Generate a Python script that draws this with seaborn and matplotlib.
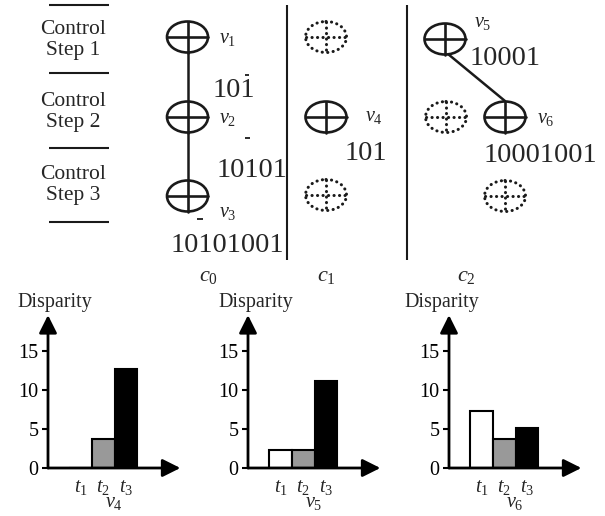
import matplotlib
matplotlib.use('Agg')
import matplotlib.pyplot as plt
import seaborn as sns
import pandas as pd
from matplotlib.patches import Ellipse

# ---------------- data ----------------
time_steps = ['$t_1$', '$t_2$', '$t_3$']
disparity_v4 = [0.0, 3.7, 12.7]
disparity_v5 = [2.3, 2.3, 11.2]
disparity_v6 = [7.3, 3.7, 5.1]
chart_nodes = ['$v_4$', '$v_5$', '$v_6$']
y_ticks = [0, 5, 10, 15]
y_label = 'Disparity'
step_labels = ['Control\nStep 1', 'Control\nStep 2', 'Control\nStep 3']
cluster_labels = ['$c_0$', '$c_1$', '$c_2$']
node_labels = ['$v_1$', '$v_2$', '$v_3$', '$v_4$', '$v_5$', '$v_6$']
node_codes = ['101', '10101', '10101001', '101', '10001', '10001001']
bar_colors = ['#ffffff', '#999999', '#000000']

# ---------------- style ----------------
sns.set_theme(style='white')
plt.rcParams['font.family'] = ['Liberation Serif', 'DejaVu Serif']
plt.rcParams['mathtext.fontset'] = 'custom'
plt.rcParams['mathtext.rm'] = 'Liberation Serif'
plt.rcParams['mathtext.it'] = 'Liberation Serif:italic'
plt.rcParams['mathtext.bf'] = 'Liberation Serif:bold'

W, H = 605, 516
fig = plt.figure(figsize=(W / 100, H / 100), dpi=100)
fig.patch.set_facecolor('white')

# overlay in pixel coordinates for the diagram
ov = fig.add_axes([0, 0, 1, 1])
ov.set_xlim(0, W)
ov.set_ylim(H, 0)
ov.axis('off')

# control-step separators and labels
for y in [5, 73, 148, 222]:
    ov.plot([49, 109], [y, y], color='k', lw=1.5, solid_capstyle='butt')
for lab, y in zip(step_labels, [40, 112, 185]):
    ov.text(73, y, lab, ha='center', va='center', fontsize=15.5, linespacing=1.2)

# column separators
for x in [287, 407]:
    ov.plot([x, x], [5, 260], color='k', lw=1.5, solid_capstyle='butt')

# edges between nodes
ov.plot([187.5, 187.5], [37, 196], color='k', lw=1.8, zorder=1)
ov.plot([448, 505], [54, 101], color='k', lw=1.8, zorder=1)

EW, EH = 41, 31


def node(x, y, dotted=False):
    if dotted:
        kw = dict(lw=2.2, linestyle=(0, (0.05, 1.75)), capstyle='round')
        lkw = dict(lw=2.2, linestyle=(0, (0.05, 1.75)), dash_capstyle='round')
    else:
        kw = dict(lw=1.9)
        lkw = dict(lw=1.9)
    e = Ellipse((x, y), EW, EH, facecolor='white', edgecolor='k', zorder=2, **kw)
    ov.add_patch(e)
    ov.plot([x - EW / 2, x + EW / 2], [y, y], color='k', zorder=3, **lkw)
    ov.plot([x, x], [y - EH / 2, y + EH / 2], color='k', zorder=3, **lkw)


solid_nodes = [(187.5, 37), (187.5, 117), (187.5, 196), (326, 117), (445, 39), (505, 117)]
dotted_nodes = [(326, 37), (326, 195), (446, 117), (505, 196)]
for x, y in solid_nodes:
    node(x, y)
for x, y in dotted_nodes:
    node(x, y, dotted=True)

label_pos = [(219, 39), (219, 118), (219, 213), (365, 116), (474, 23), (537, 119)]
for lab, (x, y) in zip(node_labels, label_pos):
    ov.text(x, y, lab, ha='left', va='center', fontsize=14.5)

code_pos = [(233.5, 97), (251.5, 177), (227, 252), (365.5, 160), (505.5, 65), (540, 162)]
for code, (x, y) in zip(node_codes, code_pos):
    ov.text(x, y, code, ha='center', va='baseline', fontsize=20.5)

# negative-digit bars
for x0, x1, y in [(245, 249, 75), (245, 250, 138), (197, 203, 219)]:
    ov.plot([x0, x1], [y, y], color='k', lw=1.3, solid_capstyle='butt')

for lab, x in zip(cluster_labels, [208, 326, 466]):
    ov.text(x, 277, lab, ha='center', va='center', fontsize=16)

# ---------------- bar charts ----------------
series = [disparity_v4, disparity_v5, disparity_v6]
axis_x = [48, 248, 449]
ylabel_x = [55, 256, 442]
px_x = 22.7
x_left, x_right = -1.43, 4.4
y_top = 19.6
zero_y = 468
px_y = 7.8

for i, (vals, nd) in enumerate(zip(series, chart_nodes)):
    ax = fig.add_axes([axis_x[i] / W, (H - zero_y) / H,
                       (x_right - x_left) * px_x / W, y_top * px_y / H])
    df = pd.DataFrame({'step': time_steps, 'disparity': vals})
    sns.barplot(data=df, x='step', y='disparity', hue='step', palette=bar_colors,
                width=1.0, edgecolor='black', linewidth=1.5, saturation=1,
                legend=False, ax=ax)
    ax.set_xlim(x_left, x_right)
    ax.set_ylim(0, y_top)
    ax.patch.set_alpha(0)
    for s in ax.spines.values():
        s.set_visible(False)
    ax.set_yticks(y_ticks)
    ax.set_yticklabels([str(t) for t in y_ticks])
    ax.tick_params(axis='y', left=True, length=4, width=1.5, direction='out',
                   pad=3, labelsize=14.5, colors='black')
    ax.tick_params(axis='x', bottom=False, length=0, pad=7, labelsize=14.5)
    ax.set_ylabel('')
    ax.set_xlabel(nd, fontsize=14.5, labelpad=-3)
    ax.grid(False)
    arrow = dict(arrowstyle='-|>,head_length=0.6,head_width=0.3', lw=2,
                 color='black', shrinkA=0, shrinkB=0, mutation_scale=18)
    ax.annotate('', xy=(x_right, 0), xytext=(x_left, 0), arrowprops=arrow,
                annotation_clip=False)
    ax.annotate('', xy=(x_left, y_top), xytext=(x_left, 0), arrowprops=arrow,
                annotation_clip=False)
    ov.text(ylabel_x[i], 302, y_label, ha='center', va='center', fontsize=14.5)

fig.savefig('out.png', dpi=100)
